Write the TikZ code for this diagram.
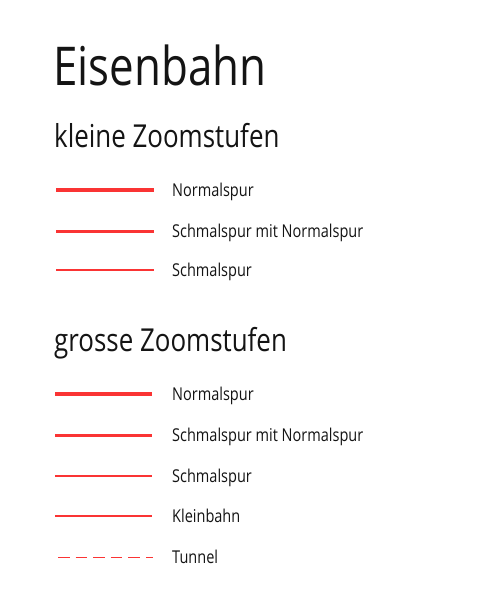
\documentclass[tikz,border=0pt]{standalone}
\usepackage{fontspec}
\setmainfont{Open Sans}[FakeStretch=0.82]
\definecolor{rail}{RGB}{250,52,52}
\definecolor{txt}{RGB}{20,20,20}
\begin{document}
\begin{tikzpicture}[x=1pt,y=-1pt,
  title/.style={anchor=base west,inner sep=0pt,text=txt,font=\fontsize{53.5}{53.5}\selectfont},
  subhead/.style={anchor=base west,inner sep=0pt,text=txt,font=\fontsize{31.6}{31.6}\selectfont},
  label/.style={anchor=base west,inner sep=0pt,text=txt,font=\fontsize{17.7}{17.7}\selectfont},
  railline/.style={draw=rail,line cap=butt}]
\useasboundingbox[fill=white] (0,0) rectangle (480,600);
\node[title] (t) at (53,85) {Eisenbahn};
\node[subhead] (k) at (54,147) {kleine Zoomstufen};
% small zoom levels
\coordinate (a1) at (56,190); \coordinate (b1) at (154,190);
\draw[railline,line width=4pt] (a1) -- (b1);
\node[label] (l1) at (172,196) {Normalspur};
\coordinate (a2) at (56,231); \coordinate (b2) at (154,231);
\draw[railline,line width=3pt] (a2) -- (b2);
\node[label] (l2) at (172,237) {Schmalspur mit Normalspur};
\coordinate (a3) at (56,270); \coordinate (b3) at (154,270);
\draw[railline,line width=2.4pt] (a3) -- (b3);
\node[label] (l3) at (172,276) {Schmalspur};
\node[subhead] (g) at (54,351) {grosse Zoomstufen};
% large zoom levels
\coordinate (c1) at (55,394); \coordinate (d1) at (152,394);
\draw[railline,line width=4.5pt] (c1) -- (d1);
\node[label] (m1) at (172,400) {Normalspur};
\coordinate (c2) at (55,435); \coordinate (d2) at (152,435);
\draw[railline,line width=3pt] (c2) -- (d2);
\node[label] (m2) at (172,441) {Schmalspur mit Normalspur};
\coordinate (c3) at (55,476); \coordinate (d3) at (152,476);
\draw[railline,line width=2.8pt] (c3) -- (d3);
\node[label] (m3) at (172,482) {Schmalspur};
\coordinate (c4) at (55,516); \coordinate (d4) at (152,516);
\draw[railline,line width=2pt] (c4) -- (d4);
\node[label] (m4) at (172,522) {Kleinbahn};
\coordinate (c5) at (58,557); \coordinate (d5) at (152.5,557);
\draw[railline,line width=1pt,dash pattern=on 11.5pt off 6.1pt] (c5) -- (d5);
\node[label] (m5) at (172,563) {Tunnel};
\end{tikzpicture}
\end{document}
